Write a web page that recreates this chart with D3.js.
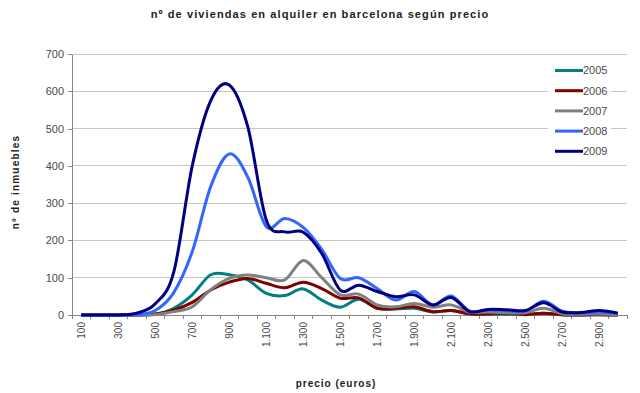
<!DOCTYPE html>
<html>
<head>
<meta charset="utf-8">
<script src="https://cdn.jsdelivr.net/npm/d3@7"></script>
<style>
  body { margin: 0; background: #fff; }
  svg { display: block; font-family: "Liberation Sans", Arial, sans-serif; }
  .axis path, .axis line { stroke: #868686; shape-rendering: crispEdges; }
  .axis text { fill: #4a4a4a; }
</style>
</head>
<body>
<div id="chart"></div>
<script>
// precio (euros), one category every 100
var precios = [100,200,300,400,500,600,700,800,900,1000,1100,1200,1300,1400,1500,
  1600,1700,1800,1900,2000,2100,2200,2300,2400,2500,2600,2700,2800,2900,3000];

var anos = ["2005","2006","2007","2008","2009"];

// nº de inmuebles por año
var v2005 = [0,0,0,0,2,18,54,108,108,94,58,52,70,40,21,42,18,16,18,8,12,3,3,2,2,5,1,0,1,0];
var v2006 = [0,0,0,0,3,13,34,67,88,98,85,73,88,71,45,46,18,18,22,9,12,3,3,5,1,5,1,0,1,0];
var v2007 = [0,0,0,0,1,9,22,68,98,107,100,94,146,100,54,56,27,22,31,21,27,8,8,6,6,18,3,2,3,1];
var v2008 = [0,0,0,1,12,60,170,345,432,370,237,259,235,176,98,100,71,40,63,27,51,10,14,12,10,37,10,5,8,4];
var v2009 = [0,0,0,5,30,115,400,575,617,505,255,223,222,165,67,80,63,49,54,27,47,9,15,14,12,33,8,7,12,5];

var yTicks = [0,100,200,300,400,500,600,700];
var colores = ["#008080","#800000","#808080","#3366ff","#000080"];

var W = 640, H = 393;
var svg = d3.select("#chart").append("svg").attr("width", W).attr("height", H);

var x = d3.scaleBand().domain(precios).range([72, 627]).padding(0),
  y = d3.scaleLinear().domain([0, 700]).range([315, 54]),
  color = d3.scaleOrdinal().domain(anos).range(colores);

var fmt = d3.formatLocale({decimal: ",", thousands: ".", grouping: [3], currency: ["", " €"]}).format(",d");

// grid
svg.append("g").selectAll("line").data(yTicks.slice(1)).enter().append("line")
  .attr("x1", 72).attr("x2", 627)
  .attr("y1", function(d){ return y(d); }).attr("y2", function(d){ return y(d); })
  .style("stroke", "#c6c6c6").style("shape-rendering", "crispEdges");

// y axis
var gy = svg.append("g").attr("class", "axis").attr("transform", "translate(72,0)")
  .call(d3.axisLeft(y).tickValues(yTicks).tickSize(4).tickPadding(4).tickSizeOuter(0));
gy.selectAll("text").style("font-size", "11px");

// x axis: labels every other category, ticks on the category borders
var gx = svg.append("g").attr("class", "axis").attr("transform", "translate(0,315)")
  .call(d3.axisBottom(x).tickValues(precios.filter(function(d, i){ return i % 2 === 0; }))
    .tickSize(0).tickSizeOuter(0).tickFormat(fmt));
gx.selectAll("text").style("font-size", "10px")
  .attr("transform", "rotate(-90)").attr("x", -7).attr("y", 0).attr("dy", "0.35em")
  .style("text-anchor", "end");
gx.selectAll("line.border").data(precios.concat(["end"])).enter().append("line")
  .attr("class", "border")
  .attr("x1", function(d){ return d === "end" ? x.range()[1] : x(d); })
  .attr("x2", function(d){ return d === "end" ? x.range()[1] : x(d); })
  .attr("y1", 0).attr("y2", 4);

// lines
var series = [v2005, v2006, v2007, v2008, v2009];
var line = d3.line()
  .x(function(d, i){ return x(precios[i]) + x.bandwidth() / 2; })
  .y(function(d){ return y(d); })
  .curve(d3.curveCatmullRom.alpha(0));

svg.append("g").selectAll("path").data(series).enter().append("path")
  .attr("d", line)
  .style("fill", "none")
  .style("stroke", function(d, i){ return color(anos[i]); })
  .style("stroke-width", 3)
  .style("stroke-linejoin", "round");

// legend
var lg = svg.append("g");
lg.append("rect").attr("x", 548).attr("y", 61).attr("width", 63).attr("height", 100).style("fill", "#fff");
var item = lg.selectAll("g").data(anos).enter().append("g")
  .attr("transform", function(d, i){ return "translate(555," + (70.5 + i * 20.2) + ")"; });
item.append("line").attr("x1", 0).attr("x2", 28)
  .style("stroke", function(d){ return color(d); }).style("stroke-width", 3);
item.append("text").attr("x", 28).attr("dy", "0.36em").text(function(d){ return d; })
  .style("font-size", "11px").style("fill", "#4a4a4a");

// titles
svg.append("text").attr("x", 320).attr("y", 18).attr("text-anchor", "middle")
  .style("font-size", "11px").style("font-weight", "bold").style("letter-spacing", "1.1px")
  .style("fill", "#222").text("nº de viviendas en alquiler en barcelona según precio");
svg.append("text").attr("x", 336).attr("y", 387).attr("text-anchor", "middle")
  .style("font-size", "10px").style("font-weight", "bold").style("letter-spacing", "1px")
  .style("fill", "#222").text("precio (euros)");
svg.append("text").attr("transform", "translate(19,182) rotate(-90)").attr("text-anchor", "middle")
  .style("font-size", "10px").style("font-weight", "bold").style("letter-spacing", "1.2px")
  .style("fill", "#222").text("nº de inmuebles");
</script>
</body>
</html>
